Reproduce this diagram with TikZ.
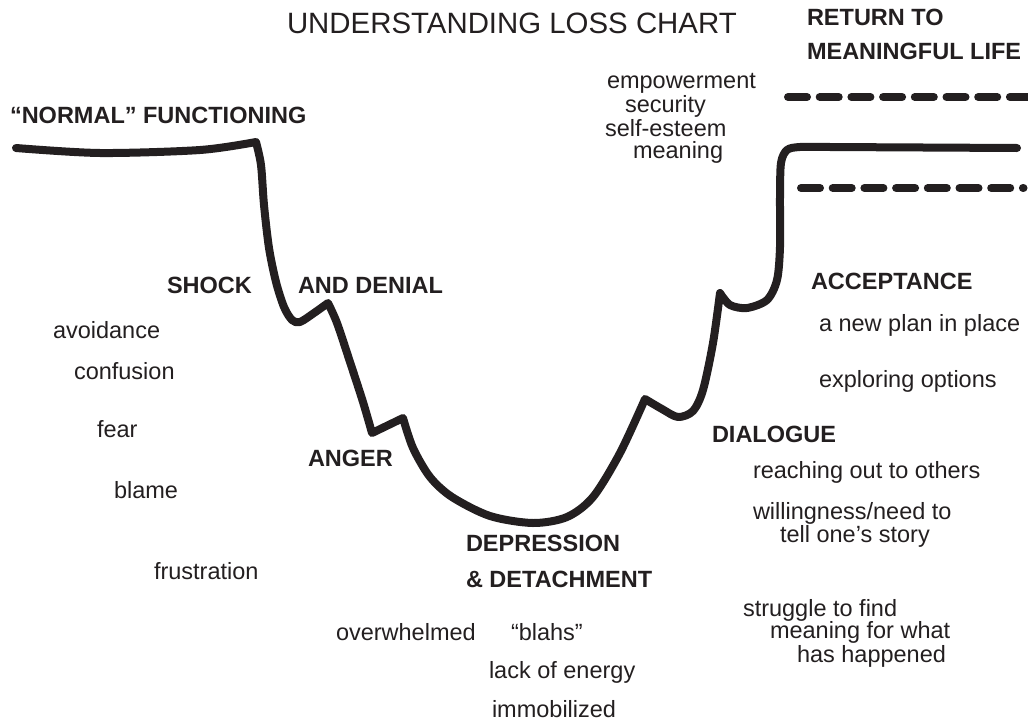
\documentclass[tikz,border=0pt]{standalone}
\usepackage{fontspec}
\setmainfont{Liberation Sans}
\definecolor{ink}{RGB}{35,31,32}
\begin{document}
\begin{tikzpicture}[x=1pt,y=-1pt,
  lbl/.style={anchor=base west, inner sep=0pt, outer sep=0pt, font=\fontsize{23.5}{28}\selectfont, text=ink},
  head/.style={lbl, font=\fontsize{23.5}{28}\selectfont\bfseries},
  titlestyle/.style={lbl, font=\fontsize{29.4}{34}\selectfont},
  curve/.style={line width=8pt, draw=ink, line cap=round, line join=round},
  dashline/.style={line width=8pt, draw=ink, line cap=round, dash pattern=on 19pt off 12.7pt}]
\useasboundingbox (0,0) rectangle (1028,723);
\clip (0,0) rectangle (1028,723);

% texts
\node[titlestyle] (title) at (287,33) {UNDERSTANDING LOSS CHART};
\node[head] (ret1) at (807,25) {RETURN TO};
\node[head] (ret2) at (807,59) {MEANINGFUL LIFE};
\node[head] (normal) at (10,123) {“NORMAL” FUNCTIONING};
\node[lbl] (emp) at (607,88) {empowerment};
\node[lbl] (sec) at (625,112) {security};
\node[lbl] (selfe) at (605,136) {self-esteem};
\node[lbl] (mean) at (633,158) {meaning};
\node[head] (shock) at (167,293) {SHOCK};
\node[head] (denial) at (298,293) {AND DENIAL};
\node[lbl] (avoid) at (53,338) {avoidance};
\node[lbl] (conf) at (74,379) {confusion};
\node[lbl] (fear) at (97,437) {fear};
\node[head] (anger) at (308,466) {ANGER};
\node[lbl] (blame) at (114,498) {blame};
\node[lbl] (frus) at (154,579) {frustration};
\node[head] (dep) at (466,551) {DEPRESSION};
\node[head] (det) at (466,587) {\& DETACHMENT};
\node[lbl] (over) at (336,640) {overwhelmed};
\node[lbl] (blahs) at (511,640) {“blahs”};
\node[lbl] (lack) at (489,678) {lack of energy};
\node[lbl] (immob) at (492,717) {immobilized};
\node[head] (acc) at (811,289) {ACCEPTANCE};
\node[lbl] (plan) at (819,331) {a new plan in place};
\node[lbl] (expl) at (819,387) {exploring options};
\node[head] (dia) at (712,442) {DIALOGUE};
\node[lbl] (reach) at (753,478) {reaching out to others};
\node[lbl] (will) at (753,519) {willingness/need to};
\node[lbl] (tell) at (780,542) {tell one’s story};
\node[lbl] (strug) at (743,616) {struggle to find};
\node[lbl] (meanf) at (770,638) {meaning for what};
\node[lbl] (hash) at (797,662) {has happened};

% main loss curve
\draw[curve] plot[smooth] coordinates {(16,148) (100,153) (200,150) (256,142)}
 -- plot[smooth] coordinates {(256,142) (261,165) (264,205) (269,248) (276,282) (284,307) (292,320) (300,322) (314,313) (328,303)}
 -- plot[smooth] coordinates {(328,303) (337,323) (350,362) (363,402) (372,433)}
 -- (403,418)
 -- plot[smooth] coordinates {(403,418) (413,448) (430,477) (452,497) (490,516) (533,523) (567,517) (593,497) (620,453) (645,399)}
 -- plot[smooth] coordinates {(645,399) (662,409) (678,417) (693,411) (703,390) (713,343) (720,293)}
 -- plot[smooth] coordinates {(720,293) (730,305) (747,308) (767,300) (777,280) (780,247) (780,197) (781,163) (787,150) (800,147) (830,147)}
 -- (1017,148);

% dashed range lines
\draw[dashline] (788,97) -- (1045,97);
\draw[dashline] (801,188) -- (1023.5,188);
\end{tikzpicture}
\end{document}
